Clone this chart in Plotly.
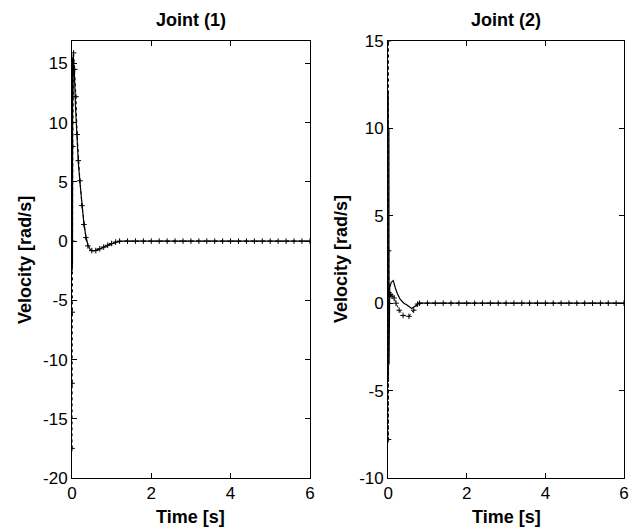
import plotly.graph_objects as go

# ---------------- data ----------------
# Joint (1)
t1_solid = [0.0, 0.004, 0.008, 0.012, 0.016, 0.02, 0.025, 0.03, 0.06, 0.09, 0.12, 0.16, 0.20,
            0.25, 0.30, 0.35, 0.40, 0.45, 0.50, 0.55, 0.60, 0.70, 0.80, 0.90, 1.00, 1.10,
            1.20, 1.30, 6.00]
v1_solid = [0.0, -2.5, 15.0, -2.0, 15.5, -1.5, 12.0, 15.8, 14.2, 11.2, 8.6, 6.6, 5.0,
            3.0, 1.5, 0.4, -0.3, -0.65, -0.8, -0.82, -0.78, -0.65, -0.5, -0.35, -0.2, -0.1,
            -0.03, 0.0, 0.0]

t1_dot = [0.0, 0.003, 0.006, 0.01, 0.02, 0.04, 0.07, 0.10, 0.13, 0.16, 0.20, 0.25, 0.30,
          0.35, 0.40, 0.50, 0.60, 0.70, 0.80, 0.90, 1.00, 1.10, 1.20, 1.40, 1.60, 1.80,
          2.00, 2.20, 2.40, 2.60, 2.80, 3.00, 3.20, 3.40, 3.60, 3.80, 4.00, 4.20, 4.40,
          4.60, 4.80, 5.00, 5.20, 5.40, 5.60, 5.80, 6.00]
v1_dot = [-17.5, -12.0, -6.0, 0.0, 8.0, 15.9, 14.5, 12.2, 9.0, 6.8, 5.1, 3.0, 1.4,
          0.3, -0.4, -0.8, -0.8, -0.65, -0.5, -0.35, -0.2, -0.08, 0.0, 0.0, 0.0, 0.0,
          0.0, 0.0, 0.0, 0.0, 0.0, 0.0, 0.0, 0.0, 0.0, 0.0, 0.0, 0.0, 0.0,
          0.0, 0.0, 0.0, 0.0, 0.0, 0.0, 0.0, 0.0]

# Joint (2)
t2_solid = [0.0, 0.004, 0.008, 0.012, 0.016, 0.02, 0.024, 0.03, 0.04, 0.08, 0.13, 0.18,
            0.23, 0.30, 0.40, 0.48, 0.55, 0.60, 0.70, 0.78, 0.90, 6.00]
v2_solid = [0.0, 12.1, -4.5, 11.5, -4.2, 10.0, -3.5, 0.5, 0.9, 1.2, 1.3, 0.9,
            0.57, 0.25, 0.0, -0.1, -0.22, -0.3, -0.15, 0.0, 0.0, 0.0]

t2_dot = [0.0, 0.004, 0.008, 0.012, 0.02, 0.06, 0.10, 0.15, 0.20, 0.28, 0.38, 0.53,
          0.65, 0.75, 0.80, 1.00, 1.20, 1.40, 1.60, 1.80, 2.00, 2.20, 2.40, 2.60,
          2.80, 3.00, 3.20, 3.40, 3.60, 3.80, 4.00, 4.20, 4.40, 4.60, 4.80, 5.00,
          5.20, 5.40, 5.60, 5.80, 6.00]
v2_dot = [0.0, 15.0, -7.8, 3.0, 0.6, 0.5, 0.4, 0.3, 0.0, -0.4, -0.7, -0.75,
          -0.4, -0.05, 0.0, 0.0, 0.0, 0.0, 0.0, 0.0, 0.0, 0.0, 0.0, 0.0,
          0.0, 0.0, 0.0, 0.0, 0.0, 0.0, 0.0, 0.0, 0.0, 0.0, 0.0, 0.0,
          0.0, 0.0, 0.0, 0.0, 0.0]

x_ticks = [0, 2, 4, 6]
x_ticktext = ["0", "2", "4", "6"]
y1_ticks = [-20, -15, -10, -5, 0, 5, 10, 15]
y1_ticktext = ["-20", "-15", "-10", "-5", "0", "5", "10", "15"]
y2_ticks = [-10, -5, 0, 5, 10, 15]
y2_ticktext = ["-10", "-5", "0", "5", "10", "15"]

titles = ["Joint (1)", "Joint (2)"]
xlabel = "Time [s]"
ylabel = "Velocity [rad/s]"

# ---------------- figure ----------------
FONT = "Liberation Sans, Arial, sans-serif"
fig = go.Figure()

def add_pair(ts, vs, td, vd, xa, ya):
    fig.add_trace(go.Scatter(x=td, y=vd, mode="lines+markers", xaxis=xa, yaxis=ya,
                             line=dict(color="black", width=1, dash="dot"),
                             marker=dict(symbol="cross-thin", size=4,
                                         line=dict(color="black", width=1)),
                             showlegend=False))
    fig.add_trace(go.Scatter(x=ts, y=vs, mode="lines", xaxis=xa, yaxis=ya,
                             line=dict(color="black", width=1.2),
                             showlegend=False))

add_pair(t1_solid, v1_solid, t1_dot, v1_dot, "x", "y")
add_pair(t2_solid, v2_solid, t2_dot, v2_dot, "x2", "y2")

axis_common = dict(showline=True, linecolor="black", linewidth=1, mirror="ticks",
                   ticks="inside", ticklen=5, tickcolor="black", showgrid=False,
                   zeroline=False, tickfont=dict(family=FONT, size=17, color="black"))

fig.update_layout(
    width=629, height=531,
    margin=dict(l=72, r=0, t=41, b=53),
    paper_bgcolor="white", plot_bgcolor="white",
    xaxis=dict(domain=[0, 0.4309], range=[0, 6], tickvals=x_ticks, ticktext=x_ticktext,
               anchor="y", **axis_common),
    yaxis=dict(domain=[0, 1], range=[-20, 16.9], tickvals=y1_ticks, ticktext=y1_ticktext,
               anchor="x", **axis_common),
    xaxis2=dict(domain=[0.5727, 1.0], range=[0, 6], tickvals=x_ticks, ticktext=x_ticktext,
                anchor="y2", **axis_common),
    yaxis2=dict(domain=[0, 1], range=[-10, 15], tickvals=y2_ticks, ticktext=y2_ticktext,
                anchor="x2", **axis_common),
)

lab_font = dict(family=FONT, size=18, color="black")
annots = []
for cx, title in zip([0.2155, 0.7864], titles):
    annots.append(dict(text="<b>%s</b>" % title, x=cx, y=1.047, xref="paper", yref="paper",
                       xanchor="center", yanchor="middle", showarrow=False, font=lab_font))
    annots.append(dict(text="<b>%s</b>" % xlabel, x=cx, y=-0.0892, xref="paper", yref="paper",
                       xanchor="center", yanchor="middle", showarrow=False, font=lab_font))
for lx in [-0.0862, 0.4865]:
    annots.append(dict(text="<b>%s</b>" % ylabel, x=lx, y=0.5, xref="paper", yref="paper",
                       xanchor="center", yanchor="middle", textangle=-90, showarrow=False,
                       font=lab_font))
fig.update_layout(annotations=annots)

fig.write_html("out.html")
